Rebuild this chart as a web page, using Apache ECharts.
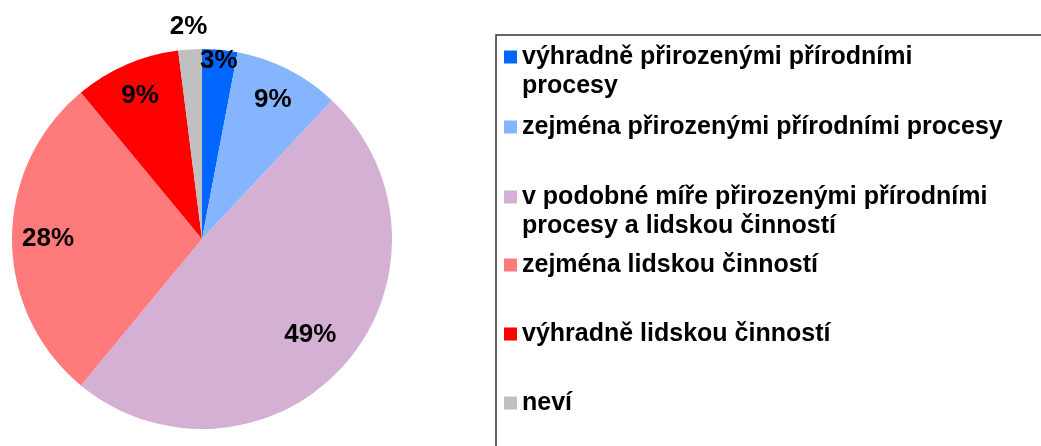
<!DOCTYPE html>
<html>
<head>
<meta charset="utf-8">
<script src="https://cdn.jsdelivr.net/npm/echarts@6/dist/echarts.min.js"></script>
<style>
  html, body { margin: 0; padding: 0; background: #fff; }
  #chart { width: 1041px; height: 446px; }
</style>
</head>
<body>
<div id="chart"></div>
<script>
// odpovědi (kategorie) a podíly v %
var categories = [
  'výhradně přirozenými přírodními procesy',
  'zejména přirozenými přírodními procesy',
  'v podobné míře přirozenými přírodními procesy a lidskou činností',
  'zejména lidskou činností',
  'výhradně lidskou činností',
  'neví'
];
var values = [3, 9, 49, 28, 9, 2];
// text legendy se zalomením řádků
var legendText = [
  'výhradně přirozenými přírodními\nprocesy',
  'zejména přirozenými přírodními procesy',
  'v podobné míře přirozenými přírodními\nprocesy a lidskou činností',
  'zejména lidskou činností',
  'výhradně lidskou činností',
  'neví'
];

var colors = ['#0066ff', '#85b5ff', '#d4b0d4', '#ff7b7b', '#ff0000', '#c0c0c0'];
var FONT = '"Liberation Sans", Arial, sans-serif';
var cx = 202, cy = 239, R = 190;
// vzdálenost popisku od středu (násobek poloměru)
var labelRadius = [0.94, 0.82, 0.76, 0.81, 0.82, 1.12];
var legendTop = [42.5, 112.5, 182.5, 250.5, 319.5, 388.5];

var chart = echarts.init(document.getElementById('chart'));

var legends = categories.map(function (name, i) {
  var twoLines = legendText[i].indexOf('\n') >= 0;
  return {
    left: 504,
    top: legendTop[i],
    padding: 0,
    orient: 'vertical',
    selectedMode: false,
    itemWidth: 13,
    itemHeight: twoLines ? 42 : 13,
    icon: twoLines ? 'path://M0,0L13,0L13,13L0,13Z M0,42L13,42' : 'rect',
    data: [name],
    formatter: function () { return legendText[i]; },
    textStyle: {
      fontFamily: FONT,
      fontWeight: 'bold',
      fontSize: 25,
      lineHeight: 29,
      color: '#000'
    }
  };
});

var option = {
  backgroundColor: '#fff',
  animation: false,
  color: colors,
  legend: legends,
  graphic: [{
    type: 'rect',
    shape: { x: 496, y: 35, width: 700, height: 600 },
    style: { fill: 'none', stroke: '#333', lineWidth: 1.5 },
    silent: true
  }],
  series: [{
    type: 'pie',
    center: [cx, cy],
    radius: R,
    startAngle: 90,
    clockwise: true,
    avoidLabelOverlap: false,
    itemStyle: { borderWidth: 0 },
    emphasis: { disabled: true },
    label: {
      show: true,
      position: 'inside',
      formatter: '{c}%',
      fontFamily: FONT,
      fontWeight: 'bold',
      fontSize: 26,
      color: '#000'
    },
    labelLine: { show: false },
    labelLayout: function (p) {
      var r = p.labelRect;
      var lx = r.x + r.width / 2, ly = r.y + r.height / 2;
      var dx = lx - cx, dy = ly - cy;
      var d = Math.sqrt(dx * dx + dy * dy) || 1;
      var k = labelRadius[p.dataIndex] * R / d - 1;
      return { dx: dx * k, dy: dy * k };
    },
    data: categories.map(function (name, i) {
      return { name: name, value: values[i] };
    })
  }]
};

chart.setOption(option);
</script>
</body>
</html>
